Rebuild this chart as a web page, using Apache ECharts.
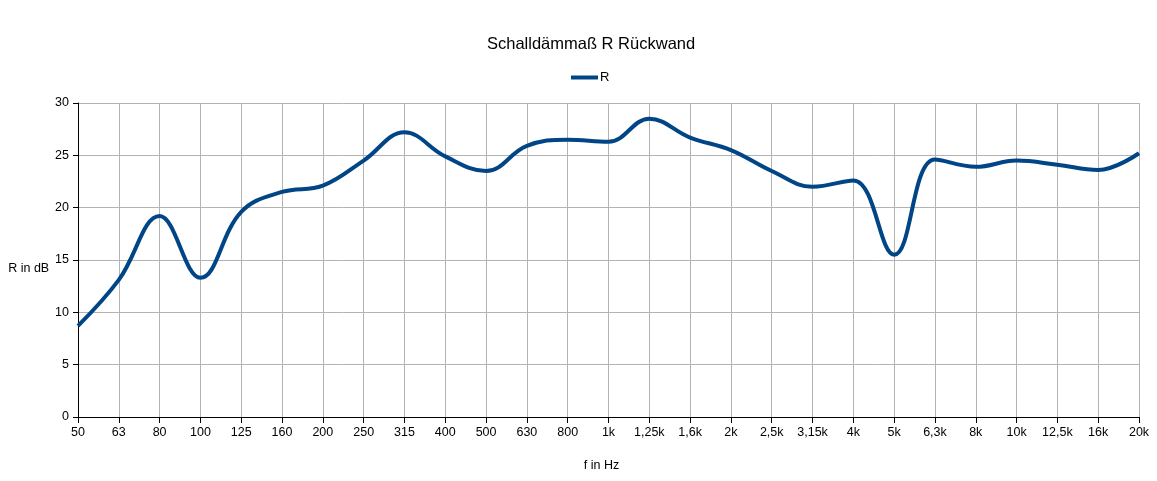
<!DOCTYPE html>
<html>
<head>
<meta charset="utf-8">
<script src="https://cdn.jsdelivr.net/npm/echarts@6/dist/echarts.min.js"></script>
<style>
  html, body { margin: 0; padding: 0; background: #fff; }
  #chart { width: 1157px; height: 481px; }
</style>
</head>
<body>
<div id="chart"></div>
<script>
// Terzband-Mittenfrequenzen
var frequencies = [
  "50", "63", "80", "100", "125", "160", "200", "250", "315", "400",
  "500", "630", "800", "1k", "1,25k", "1,6k", "2k", "2,5k", "3,15k", "4k",
  "5k", "6,3k", "8k", "10k", "12,5k", "16k", "20k"
];
// Schalldämmaß R in dB
var rValues = [
  8.7, 13.1, 19.2, 13.3, 19.6, 21.5, 22.1, 24.5, 27.2, 24.9,
  23.5, 25.9, 26.5, 26.3, 28.5, 26.7, 25.5, 23.5, 22.0, 22.6,
  15.5, 24.6, 23.9, 24.5, 24.1, 23.6, 25.2
];
var yTicks = { min: 0, max: 30, interval: 5 };

var fontFamily = "'Liberation Sans', Arial, sans-serif";
var chart = echarts.init(document.getElementById("chart"));

chart.setOption({
  animation: false,
  backgroundColor: "#fff",
  title: {
    text: "Schalldämmaß R Rückwand",
    left: 482,
    top: 31,
    textStyle: {
      fontFamily: fontFamily,
      fontSize: 16.5,
      fontWeight: "normal",
      color: "#000"
    }
  },
  legend: {
    data: ["R"],
    top: 66,
    left: 566,
    itemWidth: 27,
    itemHeight: 4,
    itemGap: 4,
    icon: "rect",
    textStyle: { fontFamily: fontFamily, fontSize: 13, color: "#000", padding: [0, 0, 0, -3] }
  },
  grid: { left: 78, right: 18, top: 103, bottom: 64, outerBoundsMode: "none" },
  xAxis: {
    type: "category",
    data: frequencies,
    boundaryGap: false,
    name: "f in Hz",
    nameLocation: "middle",
    nameGap: 42,
    nameTextStyle: { fontFamily: fontFamily, fontSize: 12.5, color: "#000", padding: [0, 14, 0, 0] },
    axisLine: { lineStyle: { color: "#000", width: 1 } },
    axisTick: { show: true, length: 6, lineStyle: { color: "#000" } },
    axisLabel: {
      interval: 0,
      margin: 9,
      fontFamily: fontFamily,
      fontSize: 12.5,
      color: "#000"
    },
    splitLine: { show: true, lineStyle: { color: "#b3b3b3", width: 1 } }
  },
  yAxis: {
    type: "value",
    min: yTicks.min,
    max: yTicks.max,
    interval: yTicks.interval,
    name: "R in dB",
    nameLocation: "middle",
    nameRotate: 0,
    nameGap: 28,
    nameTextStyle: { fontFamily: fontFamily, fontSize: 12.5, color: "#000", verticalAlign: "top", padding: [2, 0, 0, 0] },
    axisLine: { show: true, lineStyle: { color: "#000", width: 1 } },
    axisTick: { show: true, length: 5, lineStyle: { color: "#000" } },
    axisLabel: {
      margin: 9,
      fontFamily: fontFamily,
      fontSize: 12.5,
      color: "#000"
    },
    splitLine: { show: true, lineStyle: { color: "#b3b3b3", width: 1 } }
  },
  series: [
    {
      name: "R",
      type: "line",
      data: rValues,
      smooth: 0.4,
      symbol: "none",
      lineStyle: { color: "#004586", width: 4 },
      itemStyle: { color: "#004586" }
    }
  ]
});
</script>
</body>
</html>
